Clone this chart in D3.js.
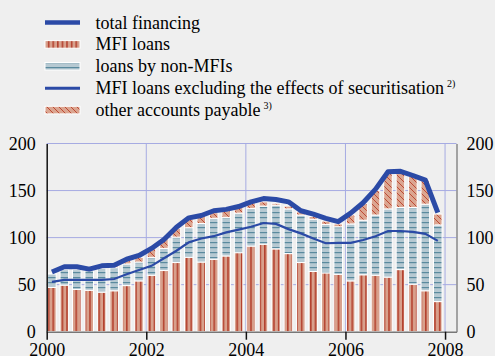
<!DOCTYPE html>
<html>
<head>
<meta charset="utf-8">
<script src="https://cdn.jsdelivr.net/npm/d3@7"></script>
<style>
    html, body { margin: 0; padding: 0; background: #efefef; }
    text { font-family: "Liberation Serif", "Times New Roman", serif; fill: #000; }
</style>
</head>
<body>
<div id="container"></div>
<script>
// quarterly observations, 2000 Q1 .. 2007 Q4
var quarters = ["2000Q1", "2000Q2", "2000Q3", "2000Q4", "2001Q1", "2001Q2", "2001Q3", "2001Q4",
    "2002Q1", "2002Q2", "2002Q3", "2002Q4", "2003Q1", "2003Q2", "2003Q3", "2003Q4",
    "2004Q1", "2004Q2", "2004Q3", "2004Q4", "2005Q1", "2005Q2", "2005Q3", "2005Q4",
    "2006Q1", "2006Q2", "2006Q3", "2006Q4", "2007Q1", "2007Q2", "2007Q3", "2007Q4"];

var mfiLoans = [47, 49.5, 45, 44, 42, 43.5, 49, 54, 60, 65, 73.5, 79, 74, 77, 80.5, 84,
    91, 93, 88, 83, 73.5, 64, 62.5, 61, 54, 60.5, 60, 58, 66, 50.5, 43.5, 32];
var nonMfiLoans = [14.5, 16.5, 21, 21, 25.5, 24.5, 23, 20, 19, 23.5, 27, 31.5, 41, 43.5, 41, 42,
    40, 40.5, 46.5, 47.5, 50.5, 55.5, 51.5, 50.5, 60.5, 58, 64, 72.5, 66, 81.5, 92, 81.5];
var otherPayable = [1, 2, 2, 1.5, 2, 2, 3.5, 5, 9.5, 10, 9.5, 9.5, 8, 6, 7, 6,
    6, 4.5, 2, 3, 3.5, 3, 3.5, 3, 9.5, 17.5, 26, 37.5, 37.5, 33.5, 25.5, 11.5];
var totalFinancing = [63.5, 69, 69, 66.5, 70, 70.5, 77, 81, 88.5, 98, 111, 121, 123.5, 128.5, 130, 133,
    138, 141.5, 140.5, 138, 128.5, 125, 120.5, 117, 126, 137, 151.5, 170, 170.5, 166, 161, 126.5];
var mfiExSecuritisation = [53, 55, 55, 55, 55, 56, 61, 65.5, 70, 78, 86, 95, 99, 101.5, 105.5, 108.5,
    111.5, 115.5, 114.5, 109, 104.5, 99, 94, 94.5, 94.5, 97.5, 101.5, 107, 107, 106, 104, 96.5];

var yTicks = [0, 50, 100, 150, 200];
var xTicks = [2000, 2002, 2004, 2006, 2008];

var legendItems = [
    { label: "total financing", note: "", kind: "thick" },
    { label: "MFI loans", note: "", kind: "mfi" },
    { label: "loans by non-MFIs", note: "", kind: "nonmfi" },
    { label: "MFI loans excluding the effects of securitisation", note: "2)", kind: "thin" },
    { label: "other accounts payable", note: "3)", kind: "other" }
];

var blue = "#2b4aa6";

var svg = d3.select("div#container")
    .append("svg")
    .attr("width", 495)
    .attr("height", 356);

svg.append("rect").attr("width", 495).attr("height", 356).attr("fill", "#efefef");

// hatch patterns
var defs = svg.append("defs");

var pMfi = defs.append("pattern").attr("id", "pMfi")
    .attr("patternUnits", "userSpaceOnUse").attr("width", 4.6).attr("height", 10);
pMfi.append("rect").attr("width", 4.6).attr("height", 10).attr("fill", "#d8a08c");
pMfi.append("rect").attr("x", 2).attr("width", 1.3).attr("height", 10).attr("fill", "#ad2e1b");

var pNon = defs.append("pattern").attr("id", "pNon")
    .attr("patternUnits", "userSpaceOnUse").attr("width", 10).attr("height", 5);
pNon.append("rect").attr("width", 10).attr("height", 5).attr("fill", "#b6c9d2");
pNon.append("rect").attr("y", 2).attr("width", 10).attr("height", 1.2).attr("fill", "#5a8a9e");

var pOther = defs.append("pattern").attr("id", "pOther")
    .attr("patternUnits", "userSpaceOnUse").attr("width", 6).attr("height", 6);
pOther.append("rect").attr("width", 6).attr("height", 6).attr("fill", "#dba590");
pOther.append("path").attr("d", "M0,0 L6,6 M-3,3 L0,6 M3,-3 L9,3")
    .attr("stroke", "#bd4a34").attr("stroke-width", 1);

// scales
var x = d3.scaleLinear().domain([2000, 2008.23]).range([46.7, 456.5]);
var y = d3.scaleLinear().domain([0, 200]).range([331.7, 143.5]);

function qStart(i) { return 2000 + i * 0.25; }
function qMid(i) { return x(qStart(i) + 0.105); }

// grid
var grid = svg.append("g");
grid.selectAll("hline")
    .data(yTicks.filter(function (d) { return d > 0; }))
    .enter().append("line")
    .attr("x1", x(2000)).attr("x2", x.range()[1])
    .attr("y1", function (d) { return y(d); }).attr("y2", function (d) { return y(d); })
    .attr("stroke", "#a6abe2").attr("stroke-width", 1);
grid.selectAll("vline")
    .data(xTicks.filter(function (d) { return d > 2000; }))
    .enter().append("line")
    .attr("x1", function (d) { return x(d); }).attr("x2", function (d) { return x(d); })
    .attr("y1", y(200)).attr("y2", y(0))
    .attr("stroke", "#a6abe2").attr("stroke-width", 1);

// stacked bars
var rows = quarters.map(function (q, i) {
    return { q: q, i: i, mfi: mfiLoans[i], non: nonMfiLoans[i], other: otherPayable[i] };
});
var stack = d3.stack().keys(["mfi", "non", "other"])(rows);
var fills = { mfi: "url(#pMfi)", non: "url(#pNon)", other: "url(#pOther)" };

svg.append("g").selectAll("g")
    .data(stack)
    .enter().append("g")
    .attr("fill", function (s) { return fills[s.key]; })
    .selectAll("rect")
    .data(function (s) { return s; })
    .enter().append("rect")
    .attr("x", function (d) { return x(qStart(d.data.i) + 0.018); })
    .attr("width", x(2000.19) - x(2000.018))
    .attr("y", function (d) { return y(d[1]); })
    .attr("height", function (d) { return y(d[0]) - y(d[1]); })
    .attr("stroke", "#ffffff")
    .attr("stroke-width", 1);

// lines
var line = d3.line()
    .x(function (d, i) { return qMid(i); })
    .y(function (d) { return y(d); });

svg.append("path").datum(mfiExSecuritisation)
    .attr("d", line).attr("fill", "none")
    .attr("stroke", blue).attr("stroke-width", 2.2);

svg.append("path").datum(totalFinancing)
    .attr("d", line).attr("fill", "none")
    .attr("stroke", blue).attr("stroke-width", 5)
    .attr("stroke-linejoin", "round");

// axes
var left = svg.append("g")
    .attr("transform", "translate(" + x(2000) + ",0)")
    .call(d3.axisLeft(y).tickValues(yTicks).tickSize(0).tickPadding(11).tickSizeOuter(0));
left.select(".domain").attr("stroke", "#111").attr("stroke-width", 1.5);

var right = svg.append("g")
    .attr("transform", "translate(" + x.range()[1] + ",0)")
    .call(d3.axisRight(y).tickValues(yTicks).tickSize(0).tickPadding(10).tickSizeOuter(0));
right.select(".domain").attr("stroke", "#8a8a8a").attr("stroke-width", 1.5);

var bottom = svg.append("g")
    .attr("transform", "translate(0," + y(0) + ")")
    .call(d3.axisBottom(x).tickValues(xTicks).tickFormat(d3.format("d")).tickSize(8).tickSizeOuter(0));
bottom.select(".domain").attr("stroke", "#777").attr("stroke-width", 1.5);
bottom.selectAll(".tick line").attr("stroke", "#111").attr("stroke-width", 1.5);
bottom.selectAll("text").attr("y", 24).attr("dy", 0);

svg.selectAll(".tick text")
    .style("font-family", "Liberation Serif")
    .style("font-size", "18px")
    .attr("fill", "#000");

// legend
var leg = svg.append("g");
legendItems.forEach(function (item, i) {
    var cy = 22.5 + i * 21.9;
    if (item.kind === "thick" || item.kind === "thin") {
        leg.append("line")
            .attr("x1", 45).attr("x2", 80).attr("y1", cy).attr("y2", cy)
            .attr("stroke", blue).attr("stroke-width", item.kind === "thick" ? 4.5 : 3);
    } else {
        leg.append("rect")
            .attr("x", 45).attr("y", cy - 3.8).attr("width", 35).attr("height", 7.6)
            .attr("fill", item.kind === "mfi" ? "url(#pMfi)" : item.kind === "nonmfi" ? "url(#pNon)" : "url(#pOther)")
            .attr("stroke", "#fff").attr("stroke-width", 1);
    }
    var t = leg.append("text")
        .attr("x", 95.5).attr("y", cy + 6)
        .style("font-size", "18px")
        .text(item.label);
    if (item.note) {
        t.append("tspan")
            .attr("dx", 3).attr("dy", -7)
            .style("font-size", "10px")
            .text(item.note);
    }
});
</script>
</body>
</html>
